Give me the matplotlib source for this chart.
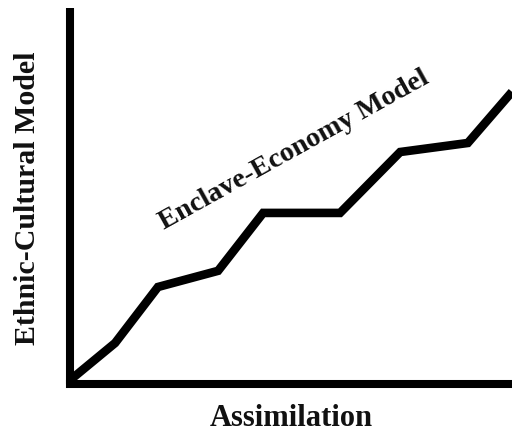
import matplotlib
matplotlib.use("Agg")
import matplotlib.pyplot as plt

# Data (arbitrary units)
x_vals = [0, 10.2, 19.9, 33.5, 43.7, 61.1, 74.7, 90.0, 100.0]
y_vals = [1.0, 10.9, 25.8, 30.1, 45.5, 45.5, 61.7, 64.1, 77.7]
x_label = "Assimilation"
y_label = "Ethnic-Cultural Model"
line_label = "Enclave-Economy Model"

fig = plt.figure(figsize=(5.12, 4.34), dpi=100)
ax = fig.add_axes([70/512, 50/434, 442/512, 376/434])
ax.plot(x_vals, y_vals, color="black", lw=6.2, solid_joinstyle="miter",
        solid_capstyle="butt", clip_on=True)
ax.set_xlim(0, 100)
ax.set_ylim(0, 100)
for s in ["top", "right"]:
    ax.spines[s].set_visible(False)
for s in ["left", "bottom"]:
    ax.spines[s].set_linewidth(5.8)
    ax.spines[s].set_color("black")
ax.spines["left"].set_capstyle("butt")
ax.spines["bottom"].set_capstyle("projecting")
ax.set_xticks([])
ax.set_yticks([])

font = dict(family="Liberation Serif", weight="bold", color="#111111")
fig.text(291/512, 1 - 419/434, x_label, ha="center", va="center", fontsize=22, **font)
fig.text(28/512, 1 - 198/434, y_label, ha="center", va="center", rotation=90, fontsize=21.5, **font)
fig.text(294/512, 1 - 150/434, line_label, ha="center", va="center", rotation=29,
         rotation_mode="anchor", fontsize=20.5, **font)

fig.savefig("out.png", dpi=100, facecolor="white")
